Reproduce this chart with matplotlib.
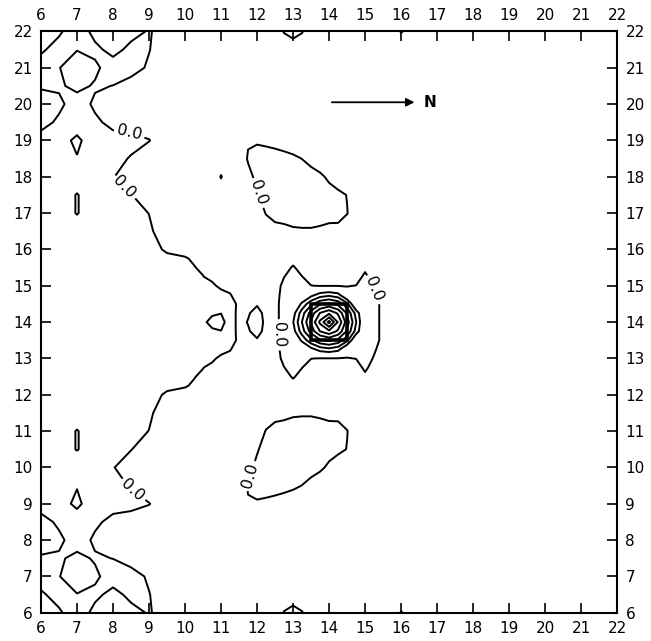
import numpy as np
import matplotlib.pyplot as plt
from matplotlib.patches import Rectangle

plt.rcParams['font.family'] = ['DejaVu Sans']

# grid nodes (finer spacing around the central peak)
x_nodes = [6, 6.5, 7, 7.5, 8, 8.5, 9, 9.5, 10,
           10.25, 10.5, 10.75, 11, 11.25, 11.5, 11.75, 12, 12.25, 12.5,
           12.75, 13, 13.25, 13.5, 13.75, 14, 14.25, 14.5, 14.75,
           15, 15.25, 15.5, 15.75, 16, 16.5, 22]
y_south = [6, 6.5, 7, 7.5, 8, 8.5, 9, 9.5, 10, 10.5, 11, 11.5,
           12, 12.25, 12.5, 12.75, 13, 13.25, 13.5, 13.75, 14]
y_north = [14.25, 14.5, 14.75, 15, 15.25, 15.5, 15.75,
           16, 16.5, 17, 17.5, 18, 18.5, 19, 19.5, 20, 20.5, 21, 21.5, 22]

# field values, one list per row
z_06 = [-1, -1, 4, -2, -3, -2, 0.5, -2.6, -3] + [-3]*10 + [0.3, 2, 0.3] + [-3]*10 + [0.3, -3, -3]
z_065 = [-1, 2.5, 0.2, 1.5, -2, 1.6, 0.2, -3, -3] + [-3]*23 + [-3, -3, -3]
z_07 = [3, 0.2, -3, -1.2, 3, 2, -0.7, -3, -3] + [-3]*23 + [-3, -3, -3]
z_075 = [0.6, 0.8, -1.5, 0.6, -0.1, -2, -3, -3, -3] + [-3]*23 + [-3, -3, -3]
z_08 = [-2.5, -1.2, 2.7, -0.95, -3, -3, -3, -3, -3] + [-3]*23 + [-3, -3, -3]
z_085 = [-2, 1, 2.5, 1, -1.5, -3, -3, -3, -3] + [-3]*23 + [-3, -3, -3]
z_09 = [2.35, 1.9, -1, 2.8, 1.9, 2, 0.2, -3, -3] + [-3]*6 + [-0.2, -0.3, -0.6, -1, -1.5, -2] + [-3]*11 + [-3, -3, -3]
z_095 = [3, 2.5, 0.25, 2.5, 2, -0.5, -3, -3, -3] + [-3]*5 + [-1.5, 0.2, 1, 1.2, 1.2, 1, 0.6, -0.05, -1, -2] + [-3]*8 + [-3, -3, -3]
z_10 = [3, 2.5, 2, 2.5, 0.3, -3, -3, -3, -3] + [-3]*5 + [-3, -0.6, 0.5, 1.3, 1.5, 1.5, 1.5, 1.4, 1.2, 0.6, -0.6, -2] + [-3]*6 + [-3, -3, -3]
z_105 = [3, 2, -0.2, 2, 2, 0.2, -3, -3, -3] + [-3]*6 + [-1.5, -0.2, 0.8, 1.4, 1.6, 1.6, 1.6, 1.6, 1.5, 1.2, 0.8, -0.1, -1.5] + [-3]*4 + [-3, -3, -3]
z_11 = [3, 2, -0.2, 2, 2.5, 2, -0.1, -3, -3] + [-3]*7 + [-1, 0.1, 1, 1.2, 1.3, 1.3, 1.3, 1.2, 1.0, 0.7, 0.1, -1.5] + [-3]*4 + [-3, -3, -3]
z_115 = [3, 3, 2, 3, 3, 2.5, 0.9, -3, -3] + [-3]*8 + [-1, -1, -0.8, -0.4, -0.3, -0.3, -0.5, -0.8, -0.6, -1.5] + [-3]*5 + [-3, -3, -3]
z_12 = [3, 3, 3, 3, 3, 3, 2, -0.8, -1] + [-2] + [-3]*22 + [-3, -3, -3]
z_1225 = [3, 3, 3, 3, 3, 3, 3, 1.2, 0.25] + [-0.4, -2, -3, -3, -3, -3, -3, -3, -3, -3,
          -2, -1, -1, -2, -3, -3, -3, -3, -3, -2, -3, -3, -3] + [-3, -3, -3]
z_125 = [3, 3, 3, 3, 3, 3, 3, 2.5, 1.5] + [0.15, -0.6, -2, -3, -3, -3, -3, -3, -3, -2,
         -1, 0.3, -1, -2, -3, -3, -3, -3, -2, -0.5, -2, -3, -3] + [-3, -3, -3]
z_1275 = [3, 3, 3, 3, 3, 3, 3, 3, 2.5] + [1.5, 0.1, -1, -2, -3, -3, -3, -3, -3, -1.5,
          -0.05, 0.8, 0.05, -1, -2, -2, -2, -2, -1, 0.5, -1, -3, -3] + [-3, -3, -3]
z_13 = [3]*9 + [2.5, 1.5, 0.8, -1, -1, -3, -3, -2, -2, -1,
                0.6, 1.2, 0.5, 0.05, -0.1, -0.1, -0.1, -0.1, 0.05, 1, -0.2, -1, -2] + [-3, -3, -3]
z_1325 = [3]*9 + [3, 2, 1.5, 1.5, 0.2, -1.5, -3, -1, -1.5, -1,
                  1, 1, 1, 3.9, 6.29, 7.14, 6.02, 1, 1, 1, 0.3, -1, -2] + [-3, -3, -3]
z_135 = [3]*9 + [3, 2, 1.5, 1, 1, -0.5, -1, -0.2, -1, -0.5,
                 0.7, 1, 5.74, 10.24, 13.52, 14.76, 13.12, 8.91, 1, 1, 0.8, -0.6, -2] + [-3, -3, -3]
z_1375 = [3]*9 + [3, 1.5, 0.6, 0.05, 1, -0.6, -0.2, 0.7, -0.6, -0.5,
                  0.7, 3.7, 9.65, 15.29, 20.12, 22.38, 19.45, 13.54, 6.84, 1, 0.8, -0.6, -2] + [-3, -3, -3]
z_14 = [3]*9 + [3, 0.8, -1.2, -0.7, 1, -0.6, 0.1, 1, -0.5, -0.5,
                0.7, 4.83, 11.12, 17.41, 23.71, 30, 22.71, 15.43, 8.14, 1, 0.8, -0.6, -2] + [-3, -3, -3]

z_1425 = [3]*9 + [3, 1.5, 0.6, 0.05, 1, -0.6, -0.2, 0.7, -0.6, -0.5,
                  0.7, 3.7, 9.65, 15.29, 20.12, 22.38, 19.45, 13.54, 6.84, 1, 0.8, -0.6, -2] + [-3, -3, -3]
z_145 = [3]*9 + [3, 2, 1.5, 1, 1, -0.5, -1, -0.2, -1, -0.5,
                 0.7, 1, 5.74, 10.24, 13.52, 14.76, 13.12, 8.91, 1, 1, 0.8, -0.6, -2] + [-3, -3, -3]
z_1475 = [3]*9 + [3, 2, 1.5, 1.5, 0.2, -1.5, -3, -1, -1.5, -1,
                  1, 1, 1, 3.9, 6.29, 7.14, 6.02, 1, 1, 1, 0.3, -1, -2] + [-3, -3, -3]
z_15 = [3]*9 + [2.5, 1.5, 0.8, -1, -1, -3, -3, -2, -2, -1,
                0.6, 1.2, 0.5, 0.05, -0.1, -0.1, -0.1, -0.1, 0.05, 1, -0.2, -1, -2] + [-3, -3, -3]
z_1525 = [3, 3, 3, 3, 3, 3, 3, 3, 2.5] + [1.5, 0.1, -1, -2, -3, -3, -3, -3, -3, -1.5,
          -0.05, 0.8, 0.05, -1, -2, -2, -2, -2, -1, 0.5, -1, -3, -3] + [-3, -3, -3]
z_155 = [3, 3, 3, 3, 3, 3, 3, 2.5, 1.5] + [0.15, -0.6, -2, -3, -3, -3, -3, -3, -3, -2,
         -1, 0.3, -1, -2, -3, -3, -3, -3, -2, -0.5, -2, -3, -3] + [-3, -3, -3]
z_1575 = [3, 3, 3, 3, 3, 3, 3, 1.2, 0.25] + [-0.4, -2, -3, -3, -3, -3, -3, -3, -3, -3,
          -2, -1, -1, -2, -3, -3, -3, -3, -3, -2, -3, -3, -3] + [-3, -3, -3]
z_16 = [3, 3, 3, 3, 3, 3, 2, -0.8, -1] + [-2] + [-3]*22 + [-3, -3, -3]
z_165 = [3, 3, 2, 3, 3, 2.5, 0.9, -3, -3] + [-3]*8 + [-1, -1, -0.8, -0.4, -0.3, -0.3, -0.5, -0.8, -0.6, -1.5] + [-3]*5 + [-3, -3, -3]
z_17 = [3, 2, -0.2, 2, 2.5, 2, -0.1, -3, -3] + [-3]*7 + [-1, 0.1, 1, 1.2, 1.3, 1.3, 1.3, 1.2, 1.0, 0.7, 0.1, -1.5] + [-3]*4 + [-3, -3, -3]
z_175 = [3, 2, -0.2, 2, 2, 0.2, -3, -3, -3] + [-3]*6 + [-1.5, -0.2, 0.8, 1.4, 1.6, 1.6, 1.6, 1.6, 1.5, 1.2, 0.8, -0.1, -1.5] + [-3]*4 + [-3, -3, -3]
z_18 = [3, 2.5, 2, 2.5, 0.3, -3, -3, -3, -3] + [-3, -3, -3, 0.3, -3] + [-3, -0.6, 0.5, 1.3, 1.5, 1.5, 1.5, 1.4, 1.2, 0.6, -0.6, -2] + [-3]*6 + [-3, -3, -3]
z_185 = [3, 2.5, 0.25, 2.5, 2, -0.5, -3, -3, -3] + [-3]*5 + [-1.5, 0.2, 1, 1.2, 1.2, 1, 0.6, -0.05, -1, -2] + [-3]*8 + [-3, -3, -3]
z_19 = [2.35, 1.9, -1, 2.8, 1.9, 2, 0.2, -3, -3] + [-3]*6 + [-0.2, -0.3, -0.6, -1, -1.5, -2] + [-3]*11 + [-3, -3, -3]
z_195 = [-2, 1, 2.5, 1, -1.5, -3, -3, -3, -3] + [-3]*23 + [-3, -3, -3]
z_20 = [-2.5, -1.2, 2.7, -0.95, -3, -3, -3, -3, -3] + [-3]*23 + [-3, -3, -3]
z_205 = [0.6, 0.8, -1.5, 0.6, -0.1, -2, -3, -3, -3] + [-3]*23 + [-3, -3, -3]
z_21 = [3, 0.2, -3, -1.2, 3, 2, -0.7, -3, -3] + [-3]*23 + [-3, -3, -3]
z_215 = [-1, 2.5, 0.2, 1.5, -2, 1.6, 0.2, -3, -3] + [-3]*23 + [-3, -3, -3]
z_22 = [-1, -1, 4, -2, -3, -2, 0.5, -2.6, -3] + [-3]*10 + [0.3, 2, 0.3] + [-3]*10 + [0.3, -3, -3]

z_south = [z_06, z_065, z_07, z_075, z_08, z_085, z_09, z_095, z_10, z_105, z_11,
           z_115, z_12, z_1225, z_125, z_1275, z_13, z_1325, z_135, z_1375, z_14]
z_north = [z_1425, z_145, z_1475, z_15, z_1525, z_155, z_1575, z_16, z_165, z_17,
           z_175, z_18, z_185, z_19, z_195, z_20, z_205, z_21, z_215, z_22]

# zero line plus the rings of the central peak
levels = [0, 5, 8, 11, 14, 17, 20, 23, 26, 29]
ticks = list(range(6, 23))

# where the "0.0" labels sit
label_spots = [(8.47, 19.28), (8.3, 17.7), (12.17, 17.6), (15.25, 14.9),
               (12.6, 13.65), (11.85, 9.75), (8.56, 9.38)]

y_nodes = y_south + y_north
z = np.array(z_south + z_north, dtype=float)

fig = plt.figure(figsize=(6.51, 6.41), dpi=100)
ax = fig.add_axes([0.063, 0.044, 0.885, 0.907])

cs = ax.contour(x_nodes, y_nodes, z, levels=levels, colors='k', linewidths=1.4)
ax.clabel(cs, levels=[0], manual=label_spots, fmt='%.1f', fontsize=11.5,
          inline=True, inline_spacing=3)

# the box around the central peak
ax.add_patch(Rectangle((13.5, 13.5), 1, 1, fill=False, lw=2.6, color='k'))

# north arrow
ax.annotate('', xy=(16.45, 20.05), xytext=(14.0, 20.05),
            arrowprops=dict(arrowstyle='-|>', lw=1.3, color='k', mutation_scale=12))
ax.text(16.8, 20.05, 'N', fontsize=11, fontweight='bold', va='center', ha='center')

ax.set_xlim(6, 22)
ax.set_ylim(6, 22)
ax.set_xticks(ticks)
ax.set_yticks(ticks)
ax.tick_params(direction='in', length=7, width=1.2, top=True, right=True,
               labeltop=True, labelright=True, labelsize=11, pad=6)
for s in ax.spines.values():
    s.set_linewidth(1.5)

fig.savefig('out.png', dpi=100)
